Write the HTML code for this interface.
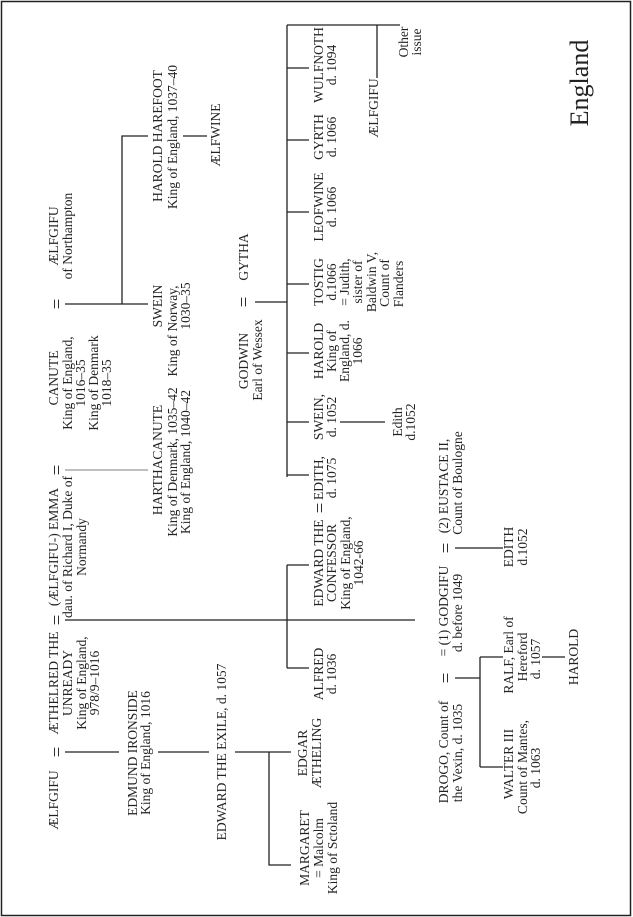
<!DOCTYPE html>
<html><head><meta charset="utf-8"><style>
html,body{margin:0;padding:0;background:#fff;}
svg{display:block;}
text{font-family:"Liberation Serif",serif;font-size:13.5px;fill:#222;text-anchor:middle;}
text.eq{font-size:19px;}
</style></head><body>
<svg width="633" height="917" viewBox="0 0 633 917" xmlns="http://www.w3.org/2000/svg">
<rect x="1.5" y="1.5" width="629" height="914" fill="#fff" stroke="#222" stroke-width="1.5"/>
<g stroke="#222" stroke-width="1.3" fill="none">
<path d="M65,752H119M158,752H209M235,752H291M269,752V865H291"/>
<path d="M65,620H415"/>
<path d="M65,304H148M122,304V136H148"/>
<path d="M183,136H207"/>
<path d="M255,302H287"/>
<path d="M287,25V477M287,25H400M287,68H309M287,140H309M287,212H309M287,284H309M287,353H309M287,422H309M287,475H309"/>
<path d="M377,25V78"/>
<path d="M287,565V668M287,565H309M287,668H309"/>
<path d="M340,422H385"/>
<path d="M455,678H480M480,657V767M480,657H503M480,767H503"/>
<path d="M542,657H565"/>
<path d="M455,548H503"/>
</g>
<path d="M65,470H148" stroke="#999" stroke-width="1.3"/>
<g>
<text transform="translate(58,800) rotate(-90)">ÆLFGIFU</text>
<text class="eq" transform="translate(63,752) rotate(-90)">=</text>
<text transform="translate(58,683) rotate(-90)">ÆTHELRED THE</text>
<text transform="translate(72,683) rotate(-90)">UNREADY</text>
<text transform="translate(86,683) rotate(-90)">King of England,</text>
<text transform="translate(99,683) rotate(-90)">978/9–1016</text>
<text class="eq" transform="translate(63,620) rotate(-90)">=</text>
<text transform="translate(58,547) rotate(-90)">(ÆLFGIFU-) EMMA</text>
<text transform="translate(72,547) rotate(-90)">dau. of Richard I, Duke of</text>
<text transform="translate(86,547) rotate(-90)">Normandy</text>
<text class="eq" transform="translate(63,470) rotate(-90)">=</text>
<text transform="translate(58,378) rotate(-90)">CANUTE</text>
<text transform="translate(72,383) rotate(-90)">King of England,</text>
<text transform="translate(85,383) rotate(-90)">1016–35</text>
<text transform="translate(98,383) rotate(-90)">King of Denmark</text>
<text transform="translate(111,383) rotate(-90)">1018–35</text>
<text class="eq" transform="translate(63,304) rotate(-90)">=</text>
<text transform="translate(58,236) rotate(-90)">ÆLFGIFU</text>
<text transform="translate(72,236) rotate(-90)">of Northampton</text>
<text transform="translate(137,753) rotate(-90)">EDMUND IRONSIDE</text>
<text transform="translate(150,753) rotate(-90)">King of England, 1016</text>
<text transform="translate(226,752) rotate(-90)">EDWARD THE EXILE, d. 1057</text>
<text transform="translate(162,460) rotate(-90)">HARTHACANUTE</text>
<text transform="translate(177,462) rotate(-90)">King of Denmark, 1035–42</text>
<text transform="translate(190,462) rotate(-90)">King of England, 1040–42</text>
<text transform="translate(162,306) rotate(-90)">SWEIN</text>
<text transform="translate(177,331) rotate(-90)">King of Norway,</text>
<text transform="translate(190,306) rotate(-90)">1030–35</text>
<text transform="translate(162,136) rotate(-90)">HAROLD HAREFOOT</text>
<text transform="translate(177,137) rotate(-90)">King of England, 1037–40</text>
<text transform="translate(220,135) rotate(-90)">ÆLFWINE</text>
<text transform="translate(248,361) rotate(-90)">GODWIN</text>
<text transform="translate(262,360) rotate(-90)">Earl of Wessex</text>
<text class="eq" transform="translate(250,302) rotate(-90)">=</text>
<text transform="translate(248,257) rotate(-90)">GYTHA</text>
<text transform="translate(307,753) rotate(-90)">EDGAR</text>
<text transform="translate(321,753) rotate(-90)">ÆTHELING</text>
<text transform="translate(309,848) rotate(-90)">MARGARET</text>
<text transform="translate(323,848) rotate(-90)">= Malcolm</text>
<text transform="translate(337,848) rotate(-90)">King of Sctoland</text>
<text transform="translate(323,674) rotate(-90)">ALFRED</text>
<text transform="translate(336,674) rotate(-90)">d. 1036</text>
<text transform="translate(323,563) rotate(-90)">EDWARD THE</text>
<text transform="translate(336,563) rotate(-90)">CONFESSOR</text>
<text transform="translate(350,563) rotate(-90)">King of England,</text>
<text transform="translate(363,563) rotate(-90)">1042-66</text>
<text class="eq" transform="translate(326,508) rotate(-90)">=</text>
<text transform="translate(323,478) rotate(-90)">EDITH,</text>
<text transform="translate(336,478) rotate(-90)">d. 1075</text>
<text transform="translate(323,417) rotate(-90)">SWEIN,</text>
<text transform="translate(336,417) rotate(-90)">d. 1052</text>
<text transform="translate(402,422) rotate(-90)">Edith</text>
<text transform="translate(415,422) rotate(-90)">d.1052</text>
<text transform="translate(323,351) rotate(-90)">HAROLD</text>
<text transform="translate(336,351) rotate(-90)">King of</text>
<text transform="translate(349,351) rotate(-90)">England, d.</text>
<text transform="translate(362,351) rotate(-90)">1066</text>
<text transform="translate(323,282) rotate(-90)">TOSTIG</text>
<text transform="translate(336,282) rotate(-90)">d.1066</text>
<text transform="translate(349,282) rotate(-90)">= Judith,</text>
<text transform="translate(362,282) rotate(-90)">sister of</text>
<text transform="translate(376,282) rotate(-90)">Baldwin V,</text>
<text transform="translate(389,283) rotate(-90)">Count of</text>
<text transform="translate(403,284) rotate(-90)">Flanders</text>
<text transform="translate(323,207) rotate(-90)">LEOFWINE</text>
<text transform="translate(336,207) rotate(-90)">d. 1066</text>
<text transform="translate(323,137) rotate(-90)">GYRTH</text>
<text transform="translate(336,137) rotate(-90)">d. 1066</text>
<text transform="translate(323,65) rotate(-90)">WULFNOTH</text>
<text transform="translate(336,65) rotate(-90)">d. 1094</text>
<text transform="translate(378,108) rotate(-90)">ÆLFGIFU</text>
<text transform="translate(408,42) rotate(-90)">Other</text>
<text transform="translate(421,42) rotate(-90)">issue</text>
<text transform="translate(588,83) rotate(-90)" style="font-size:26px">England</text>
<text transform="translate(448,752) rotate(-90)">DROGO, Count of</text>
<text transform="translate(462,753) rotate(-90)">the Vexin, d. 1035</text>
<text class="eq" transform="translate(452,678) rotate(-90)">=</text>
<text transform="translate(448,611) rotate(-90)">= (1) GODGIFU</text>
<text transform="translate(462,613) rotate(-90)">d. before 1049</text>
<text class="eq" transform="translate(452,548) rotate(-90)">=</text>
<text transform="translate(448,486) rotate(-90)">(2) EUSTACE II,</text>
<text transform="translate(462,483) rotate(-90)">Count of Boulogne</text>
<text transform="translate(513,547) rotate(-90)">EDITH</text>
<text transform="translate(527,547) rotate(-90)">d.1052</text>
<text transform="translate(513,655) rotate(-90)">RALF, Earl of</text>
<text transform="translate(527,657) rotate(-90)">Hereford</text>
<text transform="translate(540,659) rotate(-90)">d. 1057</text>
<text transform="translate(578,657) rotate(-90)">HAROLD</text>
<text transform="translate(513,764) rotate(-90)">WALTER III</text>
<text transform="translate(527,767) rotate(-90)">Count of Mantes,</text>
<text transform="translate(540,768) rotate(-90)">d. 1063</text>
</g>
</svg>
</body></html>
